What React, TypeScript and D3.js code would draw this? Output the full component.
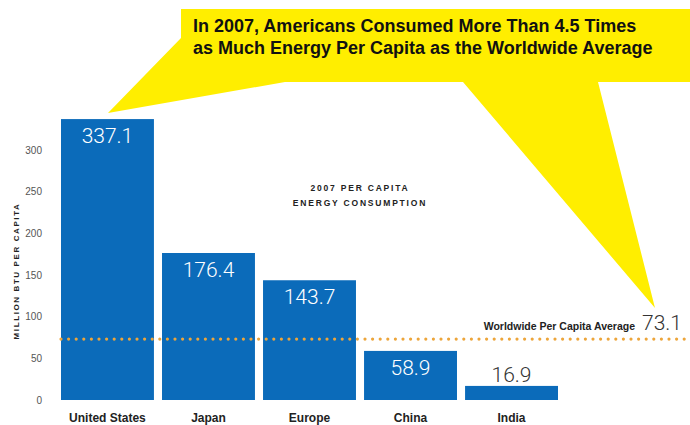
import React, { useEffect } from "react";
import * as d3 from "d3";

const categories = ["United States", "Japan", "Europe", "China", "India"];
const values = [337.1, 176.4, 143.7, 58.9, 16.9];
const yTicks = [0, 50, 100, 150, 200, 250, 300];
const worldAverage = 73.1;
const titleLines = [
  "In 2007, Americans Consumed More Than 4.5 Times",
  "as Much Energy Per Capita as the Worldwide Average",
];
const subtitleLines = ["2007 PER CAPITA", "ENERGY CONSUMPTION"];
const yAxisTitle = "MILLION BTU PER CAPITA";
const averageLabel = "Worldwide Per Capita Average";

const W = 690;
const H = 425;
const BAR = "#0B6BBA";
const YELLOW = "#FFEE00";
const ORANGE = "#EDA53A";

export default function App() {
  useEffect(() => {
    document.body.style.margin = "0";
  }, []);

  const x = d3
    .scaleBand<string>()
    .domain(categories)
    .range([61, 558])
    .paddingInner(0.08)
    .paddingOuter(0);
  const y = d3.scaleLinear().domain([0, 300]).range([400, 150]);

  const yAvg = y(worldAverage);

  // speech bubble outline (fixed decoration)
  const bubble = d3.line()([
    [181, 9],
    [690, 9],
    [690, 82],
    [598, 82],
    [655, 308],
    [463, 82],
    [285, 82],
    [108, 113],
    [181, 38],
  ]) + "Z";

  const light = "Roboto, 'Liberation Sans', sans-serif";
  const sans = "'Liberation Sans', Arial, Helvetica, sans-serif";

  return (
    <svg
      width={W}
      height={H}
      viewBox={`0 0 ${W} ${H}`}
      style={{ display: "block", position: "absolute", left: 0, top: 0, background: "#fff" }}
    >
      <rect x={0} y={0} width={W} height={H} fill="#fff" />

      {/* Speech bubble */}
      <path d={bubble} fill={YELLOW} />
      {titleLines.map((t, i) => (
        <text
          key={t}
          x={193}
          y={32 + i * 22}
          fontFamily={sans}
          fontWeight="bold"
          fontSize={18}
          fill="#111"
        >
          {t}
        </text>
      ))}

      {/* Y axis tick labels */}
      {yTicks.map((t) => (
        <text
          key={t}
          x={42}
          y={y(t)}
          dy="0.35em"
          textAnchor="end"
          fontFamily={sans}
          fontSize={10}
          fill="#555"
        >
          {t}
        </text>
      ))}

      {/* Y axis title */}
      <text
        transform={`translate(19, 271) rotate(-90)`}
        textAnchor="middle"
        fontFamily={sans}
        fontWeight="bold"
        fontSize={8}
        letterSpacing={1.6}
        fill="#222"
      >
        {yAxisTitle}
      </text>

      {/* Bars */}
      {categories.map((c, i) => (
        <rect
          key={c}
          x={x(c)}
          y={y(values[i])}
          width={x.bandwidth()}
          height={y(0) - y(values[i])}
          fill={BAR}
        />
      ))}

      {/* Value labels */}
      {categories.map((c, i) => {
        const top = y(values[i]);
        const inside = y(0) - top > 40;
        return (
          <text
            key={c}
            x={(x(c) as number) + x.bandwidth() / 2}
            y={inside ? top + 24 : top - 4}
            textAnchor="middle"
            fontFamily={light}
            fontWeight={300}
            fontSize={21}
            fill={inside ? "#fff" : "#333"}
          >
            {values[i].toFixed(1)}
          </text>
        );
      })}

      {/* Category labels */}
      {categories.map((c) => (
        <text
          key={c}
          x={(x(c) as number) + x.bandwidth() / 2}
          y={422}
          textAnchor="middle"
          fontFamily={sans}
          fontWeight="bold"
          fontSize={12}
          fill="#222"
        >
          {c}
        </text>
      ))}

      {/* Subtitle */}
      {subtitleLines.map((t, i) => (
        <text
          key={t}
          x={360}
          y={191 + i * 15}
          textAnchor="middle"
          fontFamily={sans}
          fontWeight="bold"
          fontSize={8.5}
          letterSpacing={1.8}
          fill="#222"
        >
          {t}
        </text>
      ))}

      {/* Average line */}
      <line
        x1={61}
        x2={W}
        y1={yAvg}
        y2={yAvg}
        stroke={ORANGE}
        strokeWidth={3.2}
        strokeLinecap="round"
        strokeDasharray="0 7.6"
      />
      <text
        x={635}
        y={330}
        textAnchor="end"
        fontFamily={sans}
        fontWeight="bold"
        fontSize={10.5}
        fill="#222"
      >
        {averageLabel}
      </text>
      <text x={642} y={330} fontFamily={light} fontWeight={300} fontSize={21} fill="#333">
        {worldAverage.toFixed(1)}
      </text>
    </svg>
  );
}
